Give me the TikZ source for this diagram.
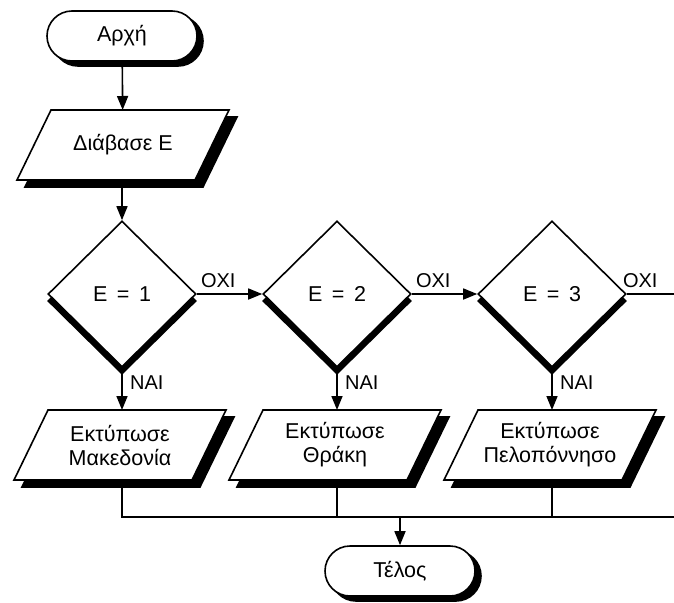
\documentclass[tikz,border=0pt]{standalone}
\usepackage{fontspec}
\setmainfont{Liberation Sans}
\usetikzlibrary{shapes.geometric,shapes.misc,shadows,arrows.meta,calc,backgrounds}
\newcommand\ioshape[1]{%
  \filldraw[black, line width=1.6pt, line join=miter]
    ([xshift=25pt,yshift=-7pt]#1.north west) -- ([xshift=25pt,yshift=-7pt]#1.north east)
    -- ([xshift=-9pt,yshift=-7pt]#1.south east) -- ([xshift=-9pt,yshift=-7pt]#1.south west) -- cycle;
  \filldraw[fill=white, draw=black, line width=1.6pt, line join=miter]
    ([xshift=17pt]#1.north west) -- ([xshift=17pt]#1.north east)
    -- ([xshift=-17pt]#1.south east) -- ([xshift=-17pt]#1.south west) -- cycle;}
\begin{document}
\begin{tikzpicture}[x=1pt,y=-1pt,
  every node/.style={font=\fontsize{21.5}{24}\selectfont},
  conn/.style={line width=1.6pt},
  arr/.style={conn,-{Triangle[length=14pt,width=11pt]}},
  term/.style={rounded rectangle, draw, line width=1.6pt, fill=white,
    minimum width=150pt, minimum height=50pt, inner sep=0pt,
    general shadow={fill=black, draw=black, shadow xshift=6pt, shadow yshift=-5pt}},
  io/.style={rectangle, minimum width=178pt, minimum height=70pt, inner sep=0pt,
    outer sep=0pt, align=center},
  dec/.style={diamond, draw, line width=1.6pt, fill=white,
    minimum width=148pt, minimum height=146pt, inner sep=0pt,
    general shadow={fill=black, draw=black, shadow xshift=0pt, shadow yshift=-7pt}},
  lbl/.style={inner sep=0pt, font=\fontsize{20}{24}\selectfont}
]
\useasboundingbox (0,0) rectangle (674,602);

\node[term] (start) at (122,36) {Αρχή};
\node[io] (read) at (123,145) {Διάβασε Ε};
\node[dec] (d1) at (122,294) {Ε \,=\, 1};
\node[dec] (d2) at (337,294) {Ε \,=\, 2};
\node[dec] (d3) at (552,294) {Ε \,=\, 3};
\node[io] (p1) at (120,445) {Εκτύπωσε\\Μακεδονία};
\node[io] (p2) at (335,445) {Εκτύπωσε\\Θράκη};
\node[io] (p3) at (550,445) {Εκτύπωσε\\Πελοπόννησο};
\node[term] (end) at (400,571) {Τέλος};

\begin{scope}[on background layer]
  \ioshape{read}
  \ioshape{p1}
  \ioshape{p2}
  \ioshape{p3}
\end{scope}

\coordinate (outR) at (674,294);
\coordinate (bus) at (400,517);
\coordinate (busR) at (674,517);

\draw[arr] (start) -- (read);
\draw[arr] (read.south -| start) -- (d1);
\draw[arr] (d1.east) -- (d2.west);
\draw[arr] (d2.east) -- (d3.west);
\draw[conn] (d3.east) -- (outR);
\draw[arr] (d1.south) -- (p1.north -| d1.south);
\draw[arr] (d2.south) -- (p2.north -| d2.south);
\draw[arr] (d3.south) -- (p3.north -| d3.south);
\draw[conn] (p1.south -| d1.south) -- (d1.south |- bus) -- (busR);
\draw[conn] (p2.south -| d2.south) -- (d2.south |- bus);
\draw[conn] (p3.south -| d3.south) -- (d3.south |- bus);
\draw[arr] (bus) -- (end);

\node[lbl, anchor=south west] (o1) at ($(d1.east)+(4,-6)$) {ΟΧΙ};
\node[lbl, anchor=south west] (o2) at ($(d2.east)+(4,-6)$) {ΟΧΙ};
\node[lbl, anchor=south west] (o3) at ($(d3.east)+(-4,-6)$) {ΟΧΙ};
\node[lbl, anchor=north west] (n1) at ($(d1.south)+(8,8)$) {ΝΑΙ};
\node[lbl, anchor=north west] (n2) at ($(d2.south)+(8,8)$) {ΝΑΙ};
\node[lbl, anchor=north west] (n3) at ($(d3.south)+(8,8)$) {ΝΑΙ};
\end{tikzpicture}
\end{document}
